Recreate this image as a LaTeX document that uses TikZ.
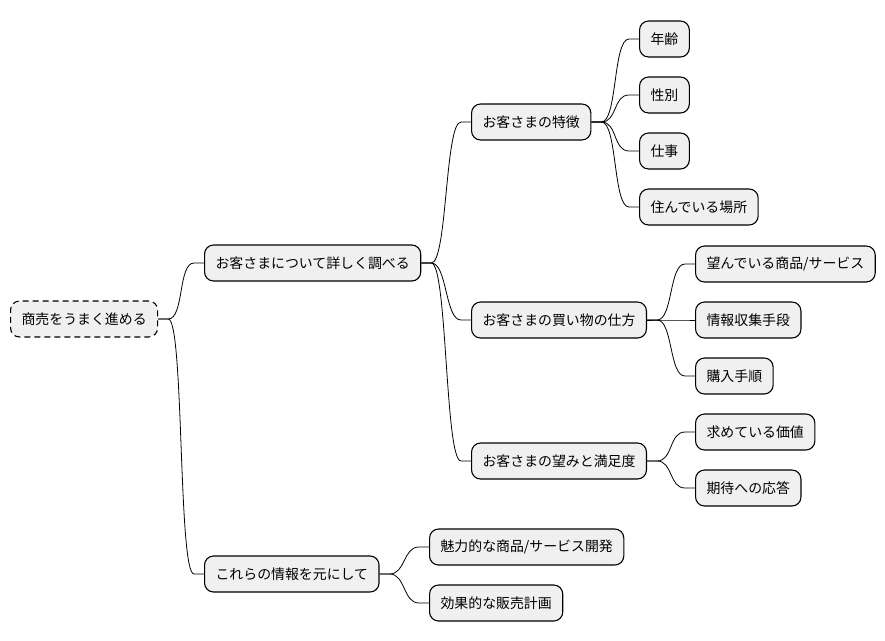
\documentclass[tikz,border=0pt]{standalone}
\usepackage{fontspec}
\setmainfont{Noto Sans CJK JP}
\tikzset{
  idea/.style={draw=black, line width=1.1pt, fill=black!6, rounded corners=9pt,
    minimum height=36pt, inner xsep=11pt, inner ysep=0pt, anchor=west,
    font=\fontsize{13.9}{16}\selectfont},
  rootidea/.style={idea, dashed, dash pattern=on 6pt off 4pt},
  link/.style={black, line width=0.8pt}
}
\begin{document}
\begin{tikzpicture}[x=1pt,y=-1pt]
\useasboundingbox (0,0) rectangle (885,640);
% root
\node [rootidea] (root) at (10,319) {商売をうまく進める};
% first level
\node [idea] (study) at (204,263) {お客さまについて詳しく調べる};
\node [idea] (use) at (204,574) {これらの情報を元にして};
% second level
\node [idea] (feat) at (471,122) {お客さまの特徴};
\node [idea] (shop) at (471,320) {お客さまの買い物の仕方};
\node [idea] (wish) at (471,461) {お客さまの望みと満足度};
\node [idea] (dev) at (429,547) {魅力的な商品/サービス開発};
\node [idea] (plan) at (429,603) {効果的な販売計画};
% third level
\node [idea] (age) at (639,39) {年齢};
\node [idea] (sex) at (639,95) {性別};
\node [idea] (job) at (639,151) {仕事};
\node [idea] (home) at (639,207) {住んでいる場所};
\node [idea] (want) at (695,264) {望んでいる商品/サービス};
\node [idea] (info) at (695,320) {情報収集手段};
\node [idea] (buy) at (695,376) {購入手順};
\node [idea] (value) at (695,432) {求めている価値};
\node [idea] (reply) at (695,488) {期待への応答};
% links
\draw [link] (root.east) -- ++(10,0) .. controls +(16,0) and +(-16,0) .. ([xshift=-10pt]study.west) -- (study.west);
\draw [link] (root.east) -- ++(10,0) .. controls +(16,0) and +(-16,0) .. ([xshift=-10pt]use.west) -- (use.west);
\draw [link] (study.east) -- ++(10,0) .. controls +(16,0) and +(-16,0) .. ([xshift=-10pt]feat.west) -- (feat.west);
\draw [link] (study.east) -- ++(10,0) .. controls +(16,0) and +(-16,0) .. ([xshift=-10pt]shop.west) -- (shop.west);
\draw [link] (study.east) -- ++(10,0) .. controls +(16,0) and +(-16,0) .. ([xshift=-10pt]wish.west) -- (wish.west);
\draw [link] (use.east) -- ++(10,0) .. controls +(16,0) and +(-16,0) .. ([xshift=-10pt]dev.west) -- (dev.west);
\draw [link] (use.east) -- ++(10,0) .. controls +(16,0) and +(-16,0) .. ([xshift=-10pt]plan.west) -- (plan.west);
\draw [link] (feat.east) -- ++(10,0) .. controls +(16,0) and +(-16,0) .. ([xshift=-10pt]age.west) -- (age.west);
\draw [link] (feat.east) -- ++(10,0) .. controls +(16,0) and +(-16,0) .. ([xshift=-10pt]sex.west) -- (sex.west);
\draw [link] (feat.east) -- ++(10,0) .. controls +(16,0) and +(-16,0) .. ([xshift=-10pt]job.west) -- (job.west);
\draw [link] (feat.east) -- ++(10,0) .. controls +(16,0) and +(-16,0) .. ([xshift=-10pt]home.west) -- (home.west);
\draw [link] (shop.east) -- ++(10,0) .. controls +(16,0) and +(-16,0) .. ([xshift=-10pt]want.west) -- (want.west);
\draw [link] (shop.east) -- ++(10,0) .. controls +(16,0) and +(-16,0) .. ([xshift=-10pt]info.west) -- (info.west);
\draw [link] (shop.east) -- ++(10,0) .. controls +(16,0) and +(-16,0) .. ([xshift=-10pt]buy.west) -- (buy.west);
\draw [link] (wish.east) -- ++(10,0) .. controls +(16,0) and +(-16,0) .. ([xshift=-10pt]value.west) -- (value.west);
\draw [link] (wish.east) -- ++(10,0) .. controls +(16,0) and +(-16,0) .. ([xshift=-10pt]reply.west) -- (reply.west);
\end{tikzpicture}
\end{document}
